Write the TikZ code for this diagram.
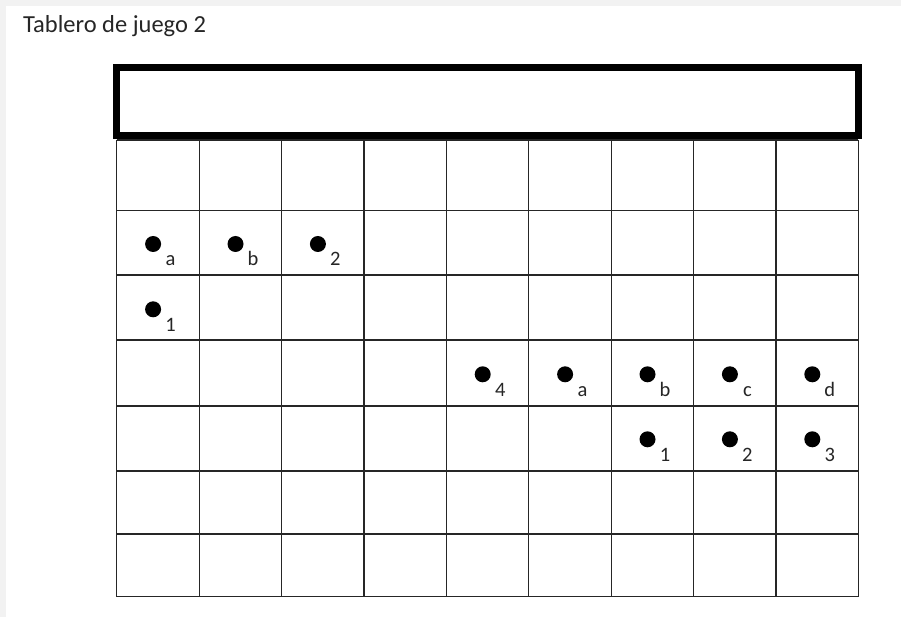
\documentclass[tikz,border=0pt]{standalone}
\usepackage{fontspec}
\setmainfont{Carlito}
\usetikzlibrary{calc}
\tikzset{>=latex}
\definecolor{pagegrey}{HTML}{F2F2F2}
\tikzstyle{piece} = [circle, fill=black, inner sep=0pt, minimum size=16pt]
\tikzstyle{tag} = [anchor=base, inner sep=0pt, font=\fontsize{20.5}{20.5}\selectfont, text=black!85]
\tikzstyle{cell} = [line width=1.2pt, draw=black!85]

\begin{document}
\begin{tikzpicture}[x=1pt, y=-1pt]
    % page
    \fill[pagegrey] (0,0) rectangle (901,617);
    \fill[white] (6,6.5) rectangle (901,617);
    \node[anchor=base west, inner sep=0pt, font=\fontsize{24.5}{24.5}\selectfont, text=black!85] (title) at (23,32.3) {Tablero de juego 2};
    % board
    \foreach \c in {0,...,9}
        \draw[cell] (116.7+82.4*\c,140) -- (116.7+82.4*\c,596.7);
    \foreach \r in {140,210.7,275,340,406,471,534,596.7}
        \draw[cell] (116.7,\r) -- (858.3,\r);
    \draw[line width=7pt] (116.7,68) rectangle (858.3,136);
    % pieces
    \foreach \c/\y/\t [count=\i] in {1/244/a, 2/244/b, 3/244/2, 1/309.3/1,
        5/374.3/4, 6/374.3/a, 7/374.3/b, 8/374.3/c, 9/374.3/d,
        7/439.3/1, 8/439.3/2, 9/439.3/3}
    {
        \node[piece] (p\i) at (70.7+82.4*\c, \y) {};
        \node[tag] (t\i) at ($(p\i)+(17.5,22)$) {\t};
    }
\end{tikzpicture}
\end{document}
